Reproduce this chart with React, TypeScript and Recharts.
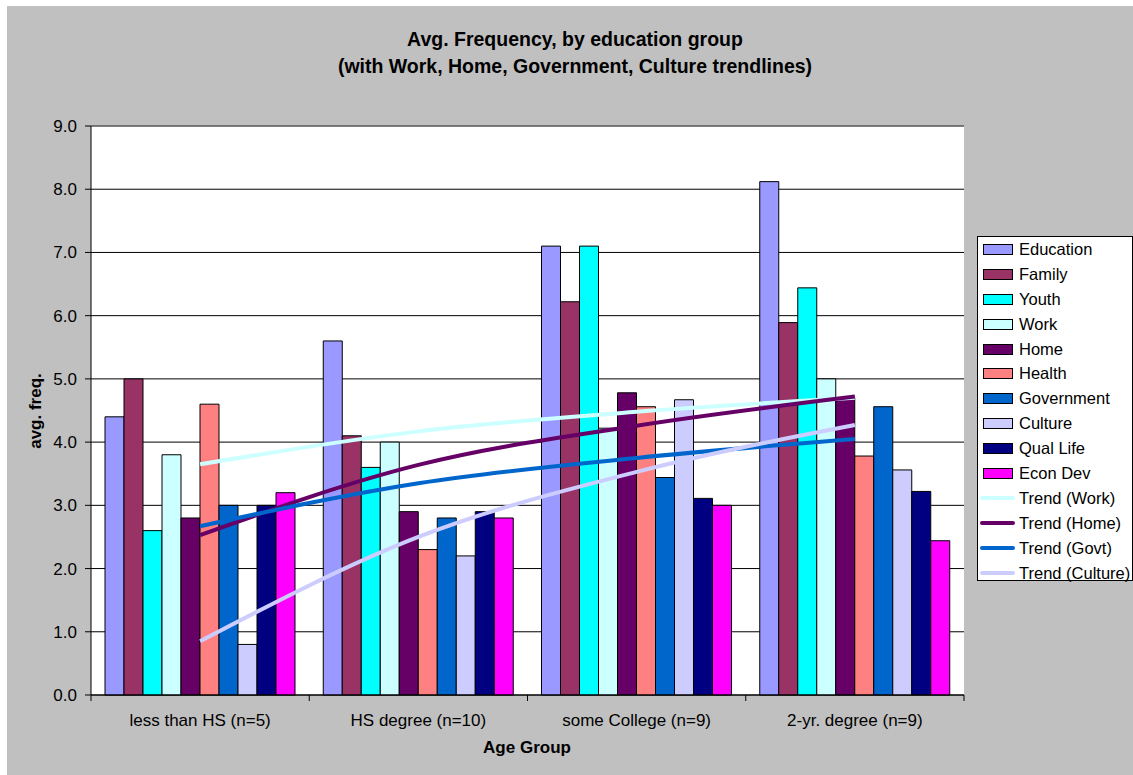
import { ComposedChart, Bar, Line, XAxis, YAxis, CartesianGrid, ReferenceLine } from "recharts";

const FONT = "'Liberation Sans', Arial, sans-serif";

const groups = ["less than HS (n=5)", "HS degree (n=10)", "some College (n=9)", "2-yr. degree (n=9)"];

// bar series, one value per education group
const education = [4.4, 5.6, 7.1, 8.12];
const family = [5.0, 4.1, 6.22, 5.89];
const youth = [2.6, 3.6, 7.1, 6.44];
const work = [3.8, 4.0, 4.22, 5.0];
const home = [2.8, 2.9, 4.78, 4.7];
const health = [4.6, 2.3, 4.56, 3.78];
const government = [3.0, 2.8, 3.44, 4.56];
const culture = [0.8, 2.2, 4.67, 3.56];
const qualLife = [3.0, 2.9, 3.11, 3.22];
const econDev = [3.2, 2.8, 3.0, 2.44];

// trendline values read at each group
const trendWork = [3.65, 4.17, 4.48, 4.7];
const trendHome = [2.53, 3.64, 4.26, 4.72];
const trendGovt = [2.67, 3.35, 3.75, 4.05];
const trendCulture = [0.85, 2.5, 3.53, 4.27];

const yTicks = [0, 1, 2, 3, 4, 5, 6, 7, 8, 9];

const bars = [
  { key: "education", name: "Education", color: "#9999FF", values: education },
  { key: "family", name: "Family", color: "#993366", values: family },
  { key: "youth", name: "Youth", color: "#00FFFF", values: youth },
  { key: "work", name: "Work", color: "#CCFFFF", values: work },
  { key: "home", name: "Home", color: "#660066", values: home },
  { key: "health", name: "Health", color: "#FF8080", values: health },
  { key: "government", name: "Government", color: "#0066CC", values: government },
  { key: "culture", name: "Culture", color: "#CCCCFF", values: culture },
  { key: "qualLife", name: "Qual Life", color: "#000080", values: qualLife },
  { key: "econDev", name: "Econ Dev", color: "#FF00FF", values: econDev },
];

const trends = [
  { key: "tWork", name: "Trend (Work)", color: "#CCFFFF", values: trendWork },
  { key: "tHome", name: "Trend (Home)", color: "#660066", values: trendHome },
  { key: "tGovt", name: "Trend (Govt)", color: "#0066CC", values: trendGovt },
  { key: "tCulture", name: "Trend (Culture)", color: "#CCCCFF", values: trendCulture },
];

const data = groups.map((g, i) => {
  const row: Record<string, string | number> = { name: g };
  bars.forEach(b => (row[b.key] = b.values[i]));
  trends.forEach(t => (row[t.key] = t.values[i]));
  return row;
});

const W = 1126;
const H = 769;
const M = { top: 120, right: 169, bottom: 0, left: 0 };
const Y_W = 84;
const X_H = 80;
const BAND = (W - M.left - M.right - Y_W) / groups.length;

function GroupTick(props: any) {
  const { x, y, payload, index } = props;
  const half = BAND / 2;
  return (
    <g>
      <line x1={x - half} x2={x - half} y1={y} y2={y + 6} stroke="#000" />
      {index === groups.length - 1 ? <line x1={x + half} x2={x + half} y1={y} y2={y + 6} stroke="#000" /> : null}
      <text x={x} y={y + 31} textAnchor="middle" fill="#000" fontSize={17} fontFamily={FONT}>
        {payload.value}
      </text>
    </g>
  );
}

function LegendBox() {
  const rows = [...bars.map(b => ({ ...b, line: false })), ...trends.map(t => ({ ...t, line: true }))];
  return (
    <div style={{
      position: "absolute", left: 970, top: 230, width: 154, height: 343,
      background: "#fff", border: "1px solid #000", fontFamily: FONT, fontSize: 16.5, color: "#000",
    }}>
      {rows.map(r => (
        <div key={r.key} style={{ height: 24.9, display: "flex", alignItems: "center", whiteSpace: "nowrap" }}>
          {r.line ? (
            <span style={{ display: "inline-block", width: 35, height: 4, borderRadius: 2, background: r.color, marginLeft: 2, marginRight: 4 }} />
          ) : (
            <span style={{ display: "inline-block", width: 28, height: 9, background: r.color, border: "1px solid #000", marginLeft: 5, marginRight: 6 }} />
          )}
          <span>{r.name}</span>
        </div>
      ))}
    </div>
  );
}

export default function App() {
  return (
    <div style={{ position: "absolute", left: 7, top: 6, width: W, height: H, background: "#C0C0C0", fontFamily: FONT }}>
      <div style={{
        position: "absolute", left: 0, top: 20, width: 1136, textAlign: "center",
        fontWeight: "bold", fontSize: 19.5, lineHeight: "27px", color: "#000",
      }}>
        Avg. Frequency, by education group<br />(with Work, Home, Government, Culture trendlines)
      </div>
      <ComposedChart width={W} height={H} data={data} margin={M} barGap={0} barSize={19} style={{ position: "absolute", left: 0, top: 0 }}>
        <CartesianGrid fill="#fff" vertical={false} stroke="#000" strokeOpacity={1} />
        <XAxis
          dataKey="name"
          height={X_H}
          interval={0}
          tickSize={0}
          tickMargin={0}
          tickLine={false}
          axisLine={{ stroke: "#000" }}
          tick={<GroupTick />}
        />
        <YAxis
          width={Y_W}
          domain={[0, 9]}
          ticks={yTicks}
          interval={0}
          tickFormatter={(v: number) => v.toFixed(1)}
          tickSize={6}
          tickMargin={8}
          axisLine={{ stroke: "#000" }}
          tickLine={{ stroke: "#000" }}
          tick={{ fill: "#000", fontSize: 17, fontFamily: FONT }}
        />
        <YAxis yAxisId="r" orientation="right" width={0} domain={[0, 9]} tick={false} tickLine={false} axisLine={{ stroke: "#808080" }} />
        <ReferenceLine y={9} stroke="#808080" />
        {bars.map(b => (
          <Bar key={b.key} dataKey={b.key} name={b.name} fill={b.color} stroke="#000" strokeWidth={1} isAnimationActive={false} />
        ))}
        {trends.map(t => (
          <Line key={t.key} type="monotone" dataKey={t.key} name={t.name} stroke={t.color} strokeWidth={4} dot={false} activeDot={false} isAnimationActive={false} />
        ))}
      </ComposedChart>
      <div style={{
        position: "absolute", left: 29, top: 405, transform: "translate(-50%, -50%) rotate(-90deg)",
        fontWeight: "bold", fontSize: 17, whiteSpace: "nowrap", color: "#000",
      }}>
        avg. freq.
      </div>
      <div style={{
        position: "absolute", left: 520, top: 732, transform: "translateX(-50%)",
        fontWeight: "bold", fontSize: 17, lineHeight: "20px", whiteSpace: "nowrap", color: "#000",
      }}>
        Age Group
      </div>
      <LegendBox />
    </div>
  );
}
